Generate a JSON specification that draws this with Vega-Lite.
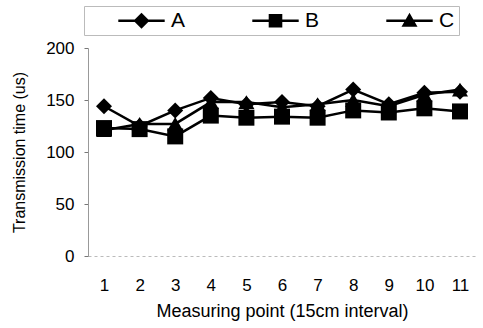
{
  "$schema": "https://vega.github.io/schema/vega-lite/v6.json",
  "autosize": "none",
  "width": 388,
  "height": 208,
  "padding": {"left": 88, "top": 48, "right": 7, "bottom": 72},
  "background": "white",
  "config": {
    "font": "Liberation Sans",
    "view": {"stroke": null}
  },
  "data": {
    "values": [
      {"point": "1", "series": "A", "value": 144},
      {"point": "2", "series": "A", "value": 125},
      {"point": "3", "series": "A", "value": 140},
      {"point": "4", "series": "A", "value": 152},
      {"point": "5", "series": "A", "value": 146},
      {"point": "6", "series": "A", "value": 148},
      {"point": "7", "series": "A", "value": 144},
      {"point": "8", "series": "A", "value": 160},
      {"point": "9", "series": "A", "value": 146},
      {"point": "10", "series": "A", "value": 157},
      {"point": "11", "series": "A", "value": 158},
      {"point": "1", "series": "B", "value": 123},
      {"point": "2", "series": "B", "value": 122},
      {"point": "3", "series": "B", "value": 115},
      {"point": "4", "series": "B", "value": 135},
      {"point": "5", "series": "B", "value": 133},
      {"point": "6", "series": "B", "value": 134},
      {"point": "7", "series": "B", "value": 133},
      {"point": "8", "series": "B", "value": 140},
      {"point": "9", "series": "B", "value": 138},
      {"point": "10", "series": "B", "value": 142},
      {"point": "11", "series": "B", "value": 139},
      {"point": "1", "series": "C", "value": 121},
      {"point": "2", "series": "C", "value": 127},
      {"point": "3", "series": "C", "value": 127},
      {"point": "4", "series": "C", "value": 148},
      {"point": "5", "series": "C", "value": 148},
      {"point": "6", "series": "C", "value": 143},
      {"point": "7", "series": "C", "value": 146},
      {"point": "8", "series": "C", "value": 150},
      {"point": "9", "series": "C", "value": 144},
      {"point": "10", "series": "C", "value": 155},
      {"point": "11", "series": "C", "value": 160}
    ]
  },
  "encoding": {
    "x": {
      "field": "point", "type": "ordinal", "sort": null,
      "scale": {"type": "point", "padding": 0.45},
      "axis": {
        "title": "Measuring point (15cm interval)",
        "labelAngle": 0, "labelFontSize": 17, "labelColor": "black",
        "labelPadding": 21, "ticks": false,
        "domainColor": "#bbbbbb", "domainDash": [3, 3],
        "titleFontSize": 18, "titleFontWeight": "normal", "titleColor": "black",
        "titlePadding": 9
      }
    },
    "y": {
      "field": "value", "type": "quantitative",
      "scale": {"domain": [0, 200], "nice": false},
      "axis": {
        "values": [0, 50, 100, 150, 200],
        "title": "Transmission time (us)",
        "grid": false,
        "labelFontSize": 17, "labelColor": "black", "labelPadding": 10,
        "tickSize": 4, "tickColor": "#777777",
        "domainColor": "#999999",
        "titleFontSize": 16, "titleFontWeight": "normal", "titleColor": "black",
        "titlePadding": 18
      }
    }
  },
  "layer": [
    {
      "mark": {"type": "line", "color": "black", "strokeWidth": 2.5},
      "encoding": {"detail": {"field": "series"}}
    },
    {
      "mark": {"type": "point", "filled": true, "color": "black", "opacity": 0, "size": 256},
      "encoding": {
        "shape": {
          "field": "series", "type": "nominal",
          "scale": {"domain": ["A", "B", "C"], "range": ["M-2.9,-0.16H2.9V0.16H-2.9ZM0,-1L1,0L0,1L-1,0Z", "M-2.9,-0.16H2.9V0.16H-2.9ZM-0.85,-0.85H0.85V0.85H-0.85Z", "M-2.9,-0.16H2.9V0.16H-2.9ZM0,-1L1,0.75H-1Z"]},
          "legend": {
            "title": " ",
            "titleOrient": "left",
            "titleFontSize": 1,
            "titlePadding": 28,
            "orient": "none",
            "direction": "horizontal",
            "columns": 3,
            "gridAlign": "all",
            "legendX": -4,
            "legendY": -42,
            "padding": 4,
            "symbolSize": 256,
            "symbolOpacity": 1,
            "symbolFillColor": "black",
            "symbolStrokeWidth": 0,
            "symbolOffset": 15,
            "labelOffset": 19,
            "labelFontSize": 21,
            "labelColor": "black",
            "columnPadding": 63,
            "strokeColor": "#bbbbbb"
          }
        }
      }
    },
    {
      "mark": {"type": "point", "filled": true, "color": "black", "opacity": 1, "size": 256},
      "encoding": {
        "shape": {
          "field": "series", "type": "nominal",
          "scale": {"domain": ["A", "B", "C"], "range": ["diamond", "square", "triangle-up"]},
          "legend": null
        }
      }
    }
  ],
  "resolve": {"scale": {"shape": "independent"}}
}
